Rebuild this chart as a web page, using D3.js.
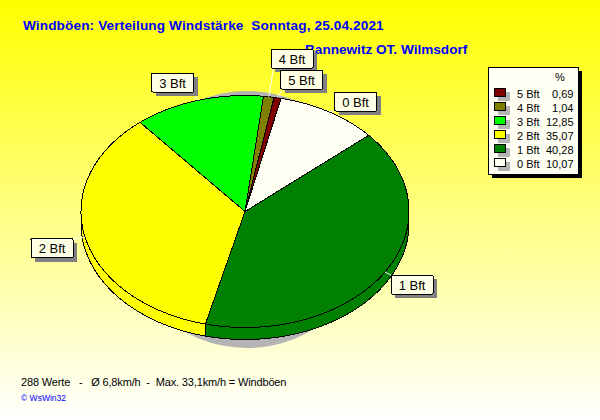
<!DOCTYPE html>
<html>
<head>
<meta charset="utf-8">
<script src="https://cdn.jsdelivr.net/npm/d3@7"></script>
<style>
html,body{margin:0;padding:0;background:#fff;overflow:hidden}
svg{display:block}
text{font-family:"Liberation Sans",Arial,sans-serif}
</style>
</head>
<body>
<svg id="c" width="600" height="420"></svg>
<script>
const categories = ["5 Bft","4 Bft","3 Bft","2 Bft","1 Bft","0 Bft"];
const percents = [0.69,1.04,12.85,35.07,40.28,10.07];
const percentLabels = ["0,69","1,04","12,85","35,07","40,28","10,07"];
const colors = ["#800000","#808000","#00ff00","#ffff00","#008000","#fffff4"];
const titleLine1 = "Windböen: Verteilung Windstärke  Sonntag, 25.04.2021";
const titleLine2 = "Bannewitz OT. Wilmsdorf";
const footerLine = "288 Werte   -   Ø 6,8km/h  -  Max. 33,1km/h = Windböen";
const creditLine = "© WsWin32";

const W=600,H=420, cx=245, cy=211.5, rx=164, ry=116, depth=12;
const boxW=42, boxH=19;
const boxPos = {"5 Bft":[280.5,70],"4 Bft":[271,49],"3 Bft":[151.5,73],"2 Bft":[31,238.5],"1 Bft":[391,275],"0 Bft":[334.5,92]};

const svg=d3.select("#c");
const defs=svg.append("defs");
const g=defs.append("linearGradient").attr("id","bg").attr("x1",0).attr("y1",0).attr("x2",0).attr("y2",1);
g.append("stop").attr("offset","0%").attr("stop-color","#ffff00");
g.append("stop").attr("offset","100%").attr("stop-color","#ffffff");
svg.append("rect").attr("width",W).attr("height",H).attr("fill","url(#bg)");

svg.append("text").attr("x",23).attr("y",30).attr("fill","#0000ff").attr("font-weight","bold").attr("font-size",13.6)
  .attr("letter-spacing",0.13).style("white-space","pre").text(titleLine1);
svg.append("text").attr("x",305).attr("y",54).attr("fill","#0000ff").attr("font-weight","bold").attr("font-size",13.6).text(titleLine2);

// shadow
svg.append("ellipse").attr("cx",247).attr("cy",219.5).attr("rx",128).attr("ry",128.5).attr("fill","#b4b4b4");

const data=categories.map((c,i)=>({c,v:percents[i],col:colors[i]})).reverse();
const start=12.7*Math.PI/180;
const arcs=d3.pie().sort(null).value(d=>d.v).startAngle(start).endAngle(start+2*Math.PI)(data);
const X=d3.scaleLinear().domain([-1,1]).range([cx-rx,cx+rx]);
const Y=d3.scaleLinear().domain([-1,1]).range([cy-ry,cy+ry]);
const pt=(t,dy=0)=>[X(Math.sin(t)),Y(-Math.cos(t))+dy];
const STEP=Math.PI/180;

const lineGen=d3.line();
const pieG=svg.append("g").attr("shape-rendering","crispEdges");
function clipSide(a){
  const lo=Math.PI/2, hi=3*Math.PI/2;
  const s=Math.max(a.startAngle,lo), e=Math.min(a.endAngle,hi);
  return e>s?[[s,e]]:[];
}
arcs.forEach(a=>{
  clipSide(a).forEach(([s,e])=>{
    const ts=d3.range(s,e,STEP).concat([e]);
    const top=ts.map(t=>pt(t)), bot=ts.map(t=>pt(t,depth)).reverse();
    pieG.append("path").attr("d",lineGen(top.concat(bot))+"Z")
      .attr("fill",a.data.col).attr("stroke","#000").attr("stroke-width",1);
  });
});
arcs.forEach(a=>{
  const ts=d3.range(a.startAngle,a.endAngle,STEP).concat([a.endAngle]);
  const pts=[[cx,cy]].concat(ts.map(t=>pt(t)));
  pieG.append("path").attr("d",lineGen(pts)+"Z").attr("fill",a.data.col).attr("stroke","#000").attr("stroke-width",1);
});

arcs.forEach(a=>{
  const [bx,by]=boxPos[a.data.c];
  const m=(a.startAngle+a.endAngle)/2, p=pt(m);
  const tx=Math.max(bx,Math.min(bx+boxW,p[0]+(bx+boxW/2-p[0])*0.2));
  const ty=p[1]<by?by:(p[1]>by+boxH?by+boxH:p[1]);
  svg.append("line").attr("x1",p[0]).attr("y1",p[1]).attr("x2",tx).attr("y2",ty).attr("stroke","#fff").attr("stroke-width",1);
});
arcs.forEach(a=>{
  const [bx,by]=boxPos[a.data.c];
  svg.append("rect").attr("x",bx+4).attr("y",by+4).attr("width",boxW).attr("height",boxH).attr("fill","#808080").attr("shape-rendering","crispEdges");
  svg.append("rect").attr("x",bx).attr("y",by).attr("width",boxW).attr("height",boxH).attr("rx",1)
    .attr("fill","#ffffe6").attr("stroke","#000").attr("shape-rendering","crispEdges");
  svg.append("text").attr("x",bx+boxW/2).attr("y",by+14.5).attr("text-anchor","middle").attr("font-size",13).attr("fill","#000").text(a.data.c);
});

const lx=488,ly=67,lw=90,lh=107;
svg.append("rect").attr("x",lx+4).attr("y",ly+4).attr("width",lw).attr("height",lh).attr("fill","#000").attr("shape-rendering","crispEdges");
svg.append("rect").attr("x",lx).attr("y",ly).attr("width",lw).attr("height",lh).attr("fill","#fffff4").attr("stroke","#000").attr("shape-rendering","crispEdges");
svg.append("text").attr("x",560).attr("y",81).attr("text-anchor","middle").attr("font-size",11).text("%");
const rowY=d3.scalePoint().domain(categories).range([93,163]);
categories.forEach((c,i)=>{
  const y=rowY(c);
  svg.append("rect").attr("x",498).attr("y",y-1).attr("width",12).attr("height",9).attr("fill","#b4b4b4").attr("shape-rendering","crispEdges");
  svg.append("rect").attr("x",494.5).attr("y",y-4.5).attr("width",11).attr("height",8).attr("fill",colors[i]).attr("stroke","#000").attr("shape-rendering","crispEdges");
  svg.append("text").attr("x",517).attr("y",y+4.5).attr("font-size",11).attr("fill","#000").text(c);
  svg.append("text").attr("x",573.5).attr("y",y+4.5).attr("text-anchor","end").attr("font-size",11).attr("fill","#000").text(percentLabels[i]);
});

svg.append("text").attr("x",21).attr("y",386).attr("font-size",11).attr("letter-spacing",-0.15).attr("fill","#000").style("white-space","pre").text(footerLine);
svg.append("text").attr("x",21).attr("y",401).attr("font-size",8.5).attr("fill","#0000ff").text(creditLine);
</script>
</body>
</html>
